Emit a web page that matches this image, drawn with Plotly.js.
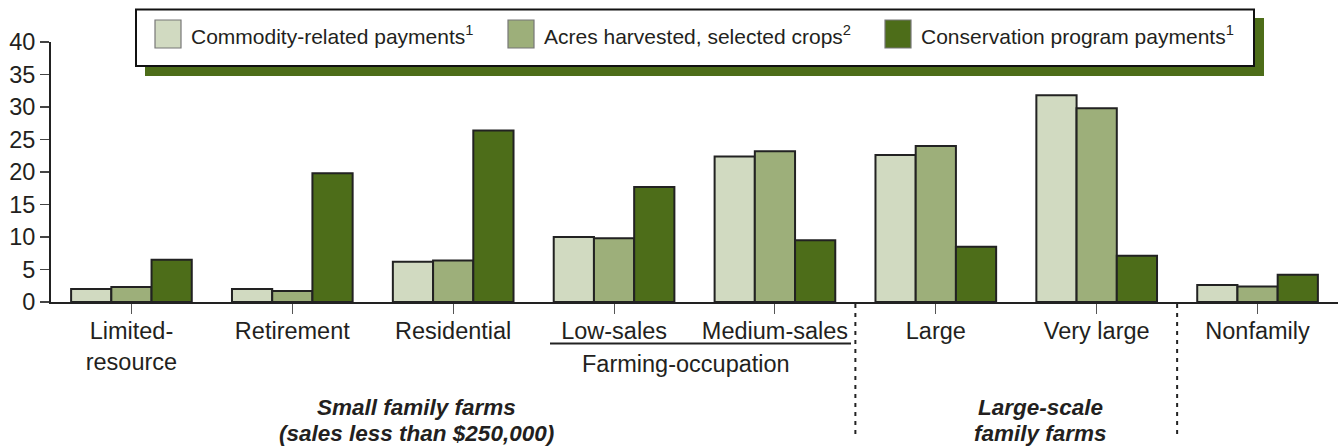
<!DOCTYPE html>
<html>
<head>
<meta charset="utf-8">
<script src="https://cdn.plot.ly/plotly-3.0.1.min.js"></script>
<style>
html,body{margin:0;padding:0;background:#fff;}
#chart{width:1338px;height:446px;}
</style>
</head>
<body>
<div id="chart"></div>
<script>
// ---- data ----
const categories = ["Limited-<br>resource", "Retirement", "Residential", "Low-sales", "Medium-sales", "Large", "Very large", "Nonfamily"];
const seriesNames = ["Commodity-related payments", "Acres harvested, selected crops", "Conservation program payments"];
const seriesSup = ["1", "2", "1"];
const commodityPayments = [2.0, 2.0, 6.2, 10.0, 22.4, 22.6, 31.8, 2.6];
const acresHarvested = [2.3, 1.7, 6.4, 9.8, 23.2, 24.0, 29.8, 2.4];
const conservationPayments = [6.5, 19.8, 26.4, 17.7, 9.5, 8.5, 7.1, 4.2];
const yTicks = [0, 5, 10, 15, 20, 25, 30, 35, 40];
const subGroupLabel = "Farming-occupation";
const groupLabels = [["Small family farms", "(sales less than $250,000)"], ["Large-scale", "family farms"]];
const separators = [4.5, 6.5];

// ---- style ----
const colors = ["#d1dac1", "#9daf7a", "#4d6d19"];
const FONT = "'Liberation Sans', Arial, Helvetica, sans-serif";
const TXT = "#231f20";

// pixel helpers (plot area: x 51..1338, y 42..302)
const L = 51, T = 42, W = 1287, H = 260;
const px = v => (v - L) / W;
const py = v => (T + H - v) / H;

const values = [commodityPayments, acresHarvested, conservationPayments];
const traces = values.map((vals, i) => ({
  type: "bar",
  x: categories,
  y: vals,
  name: seriesNames[i],
  marker: {color: colors[i], line: {color: "#222", width: 2}},
  showlegend: false,
  hoverinfo: "x+y"
}));

const shapes = [];
const annotations = [];

// legend shadow + box
shapes.push({type: "rect", xref: "paper", yref: "paper", x0: px(145), x1: px(1264), y0: py(76), y1: py(18),
  fillcolor: colors[2], line: {width: 0}, layer: "above"});
shapes.push({type: "rect", xref: "paper", yref: "paper", x0: px(136), x1: px(1254), y0: py(66), y1: py(9.5),
  fillcolor: "#ffffff", line: {color: "#111", width: 2}, layer: "above"});
const swatchX = [155, 508, 885];
seriesNames.forEach((n, i) => {
  shapes.push({type: "rect", xref: "paper", yref: "paper", x0: px(swatchX[i]), x1: px(swatchX[i] + 26),
    y0: py(48), y1: py(20), fillcolor: colors[i], line: {color: "#777", width: 1.2}, layer: "above"});
  annotations.push({xref: "paper", yref: "paper", x: px(swatchX[i] + 34), y: py(35), xanchor: "left", yanchor: "middle",
    text: n + "<sup>" + seriesSup[i] + "</sup>", showarrow: false, font: {family: FONT, size: 21, color: TXT}});
});

// underline under Low-sales / Medium-sales
shapes.push({type: "line", xref: "paper", yref: "paper", x0: px(550), x1: px(851), y0: py(343.5), y1: py(343.5),
  line: {color: "#222", width: 2}});
// dashed separators
separators.forEach(xv => shapes.push({type: "line", xref: "x", yref: "paper", x0: xv, x1: xv, y0: py(304), y1: py(438),
  line: {color: "#222", width: 2, dash: "4px,5px"}}));

annotations.push({xref: "paper", yref: "paper", x: px(686), y: py(364), xanchor: "center", yanchor: "middle",
  text: subGroupLabel, showarrow: false, font: {family: FONT, size: 23.5, color: TXT}});
const groupCenters = [416, 1040];
groupLabels.forEach((lines, g) => {
  lines.forEach((t, k) => {
    annotations.push({xref: "paper", yref: "paper", x: px(groupCenters[g]), y: py(407 + k * 26), xanchor: "center", yanchor: "middle",
      text: "<b><i>" + t + "</i></b>", showarrow: false, font: {family: FONT, size: 22.5, color: TXT}});
  });
});

const layout = {
  width: 1338, height: 446,
  margin: {l: L, r: 0, t: T, b: 446 - T - H, pad: 0},
  paper_bgcolor: "#fff", plot_bgcolor: "#fff",
  barmode: "group", bargap: 0.25, bargroupgap: 0,
  font: {family: FONT, color: TXT},
  showlegend: false,
  xaxis: {
    type: "category", range: [-0.5, 7.5], fixedrange: true,
    showline: true, linecolor: "#222", linewidth: 2,
    ticks: "outside", ticklen: 10, tickwidth: 1, tickcolor: "#555",
    ticklabelstandoff: -3,
    tickfont: {family: FONT, size: 23.5, color: TXT},
    showgrid: false, zeroline: false
  },
  yaxis: {
    range: [0, 40], fixedrange: true,
    tickvals: yTicks, ticktext: yTicks.map(String),
    showline: true, linecolor: "#222", linewidth: 2,
    ticks: "outside", ticklen: 9, tickwidth: 1.5, tickcolor: "#444",
    tickfont: {family: FONT, size: 23.5, color: TXT},
    showgrid: false, zeroline: false
  },
  shapes: shapes,
  annotations: annotations
};

Plotly.newPlot("chart", traces, layout, {displayModeBar: false, staticPlot: true});
</script>
</body>
</html>
